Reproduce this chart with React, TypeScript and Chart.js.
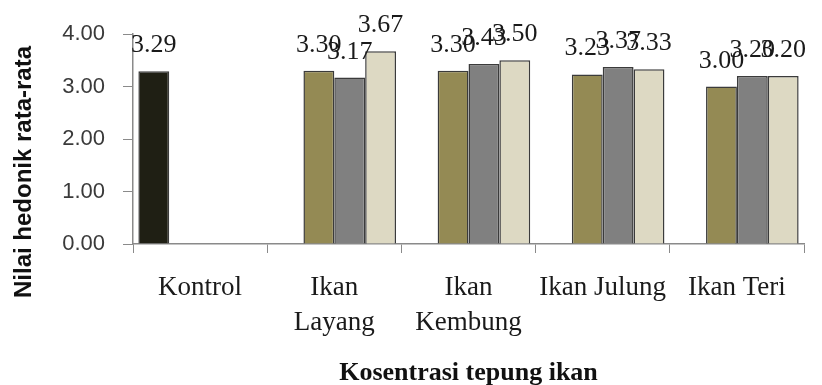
import React, { useEffect, useRef } from "react";
import { Chart, registerables } from "chart.js";

Chart.register(...registerables);

// Categories on the x axis (multi-line where the label wraps)
const categories: (string | string[])[] = [
  "Kontrol",
  ["Ikan", "Layang"],
  ["Ikan", "Kembung"],
  "Ikan Julung",
  "Ikan Teri",
];

// Mean hedonic scores per treatment
const kontrolValues: (number | null)[] = [3.29, null, null, null, null];
const level1Values: (number | null)[] = [null, 3.3, 3.3, 3.23, 3.0];
const level2Values: (number | null)[] = [null, 3.17, 3.43, 3.37, 3.2];
const level3Values: (number | null)[] = [null, 3.67, 3.5, 3.33, 3.2];

// Y axis tick values
const yTickValues = [0, 1, 2, 3, 4];

const xTitle = "Kosentrasi tepung ikan";
const yTitle = "Nilai hedonik rata-rata";

const SERIF = "'Liberation Serif', 'Times New Roman', serif";
const SANS = "'Liberation Sans', Arial, sans-serif";
const AXIS_GREY = "#8a8a8a";

// Draws each bar's value above it
const valueLabelPlugin = {
  id: "valueLabels",
  afterDatasetsDraw(chart: any) {
    const ctx = chart.ctx;
    ctx.save();
    ctx.font = `26px ${SERIF}`;
    ctx.fillStyle = "#1a1a1a";
    ctx.textAlign = "center";
    ctx.textBaseline = "alphabetic";
    chart.data.datasets.forEach((ds: any, i: number) => {
      const meta = chart.getDatasetMeta(i);
      meta.data.forEach((el: any, j: number) => {
        const v = ds.data[j];
        if (v === null || v === undefined) return;
        ctx.fillText(Number(v).toFixed(2), el.x, el.y - 19);
      });
    });
    ctx.restore();
  },
};

// Axis titles
const axisTitlePlugin = {
  id: "axisTitles",
  afterDraw(chart: any) {
    const ctx = chart.ctx;
    const area = chart.chartArea;
    ctx.save();
    ctx.fillStyle = "#111";
    ctx.font = `bold 26px ${SERIF}`;
    ctx.textAlign = "center";
    ctx.textBaseline = "alphabetic";
    ctx.fillText(xTitle, (area.left + area.right) / 2, 380);

    ctx.translate(24, 172);
    ctx.rotate(-Math.PI / 2);
    ctx.font = `bold 24px ${SANS}`;
    ctx.textBaseline = "middle";
    ctx.fillText(yTitle, 0, 0);
    ctx.restore();
  },
};

export default function App() {
  const canvasRef = useRef<HTMLCanvasElement | null>(null);

  useEffect(() => {
    if (!canvasRef.current) return;
    const border = "#3b3b3b";
    const chart = new Chart(canvasRef.current, {
      type: "bar",
      data: {
        labels: categories as any,
        datasets: [
          {
            label: "Kontrol",
            data: kontrolValues,
            backgroundColor: "#1f1f14",
            borderColor: border,
            borderWidth: 1.5,
          },
          {
            label: "Konsentrasi 1",
            data: level1Values,
            backgroundColor: "#948a54",
            borderColor: border,
            borderWidth: 1.5,
          },
          {
            label: "Konsentrasi 2",
            data: level2Values,
            backgroundColor: "#808080",
            borderColor: border,
            borderWidth: 1.5,
          },
          {
            label: "Konsentrasi 3",
            data: level3Values,
            backgroundColor: "#ddd9c3",
            borderColor: border,
            borderWidth: 1.5,
          },
        ],
      },
      options: {
        responsive: false,
        animation: false,
        devicePixelRatio: 1,
        layout: { padding: { left: 0, right: 18, top: 34, bottom: 0 } },
        datasets: {
          bar: { categoryPercentage: 0.92, barPercentage: 1.0 },
        },
        plugins: {
          legend: { display: false },
          tooltip: { enabled: false },
        },
        scales: {
          x: {
            grid: {
              offset: true,
              drawOnChartArea: false,
              drawTicks: true,
              tickLength: 9,
              color: AXIS_GREY,
            },
            border: { display: true, color: AXIS_GREY, width: 1.5 },
            ticks: {
              color: "#1a1a1a",
              font: { family: SERIF, size: 27, lineHeight: 1.3 },
              padding: 17,
              maxRotation: 0,
              autoSkip: false,
            },
            afterFit(scale: any) {
              scale.height = 385 - 244;
            },
          },
          y: {
            min: 0,
            max: 4,
            grid: {
              drawOnChartArea: false,
              drawTicks: true,
              tickLength: 10,
              color: AXIS_GREY,
            },
            border: { display: true, color: AXIS_GREY, width: 1.5 },
            ticks: {
              color: "#3a3a3a",
              font: { family: SANS, size: 22 },
              padding: 18,
              callback: (v: any) => Number(v).toFixed(2),
            },
            afterBuildTicks(scale: any) {
              scale.ticks = yTickValues.map((v) => ({ value: v }));
            },
            afterFit(scale: any) {
              scale.width = 133;
            },
          },
        },
      },
      plugins: [valueLabelPlugin, axisTitlePlugin],
    });
    return () => chart.destroy();
  }, []);

  return (
    <div style={{ position: "absolute", left: 0, top: 0, width: 822, height: 385, background: "#fff" }}>
      <canvas ref={canvasRef} width={822} height={385} style={{ display: "block" }} />
    </div>
  );
}
